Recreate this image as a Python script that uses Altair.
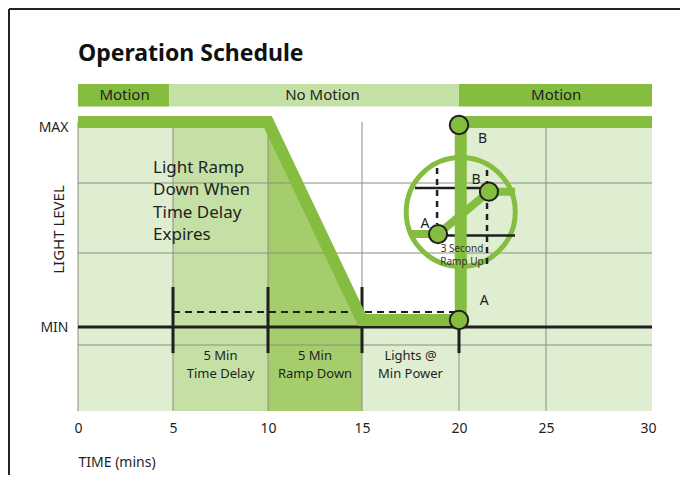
import altair as alt
import pandas as pd

FONT = "Noto Sans"
TXT = "#1f1f1f"
GREEN = "#84bd3f"
LIGHT = "#dfedd0"
MID = "#c5e0a4"
DARK = "#a6cd6c"
GRID = "#8a9080"

# ---- scales (x: minutes, y: light level with MIN = 0, MAX = 1) ----
X_TICKS = [0, 5, 10, 15, 20, 25, 30]
X_DOMAIN = [0, 5, 10, 15, 20, 25, 30, 30.2]
X_RANGE = [0, 95, 190, 284, 381, 468, 570, 574]
Y_DOMAIN = [-0.422, 1.221]
Y_TICKS = [0, 1]

HI, LO = 1.03, 0.035
BOTTOM = -0.422

# light level curve
curve_t = [0, 10, 15, 20.1, 20.1, 30.2]
curve_lvl = [HI, HI, LO, LO, HI, HI]

# shaded phases under the curve
area_t = [0, 5, 5, 10, 10, 15, 15, 20, 20, 30.2]
area_lvl = [HI, HI, HI, HI, HI, LO, LO, LO, HI, HI]
area_seg = ["a", "a", "b", "b", "c", "c", "d", "d", "e", "e"]
seg_names = ["a", "b", "c", "d", "e"]
seg_colors = [LIGHT, MID, DARK, LIGHT, LIGHT]

# grid
grid_t = [0, 5, 10, 15, 20, 25]
grid_lvl = [0.724, 0.372, -0.09]

# motion band
band_start = [0, 4.8, 20]
band_end = [4.8, 20, 30.2]
band_text = ["Motion", "No Motion", "Motion"]
band_text_t = [2.45, 12.9, 25.5]
band_colors = [GREEN, MID, GREEN]
BAND_LO, BAND_HI = 1.108, 1.221

# timeline
tick_t = [5, 10, 15, 20]
TICK_TOP, TICK_BOT = 0.201, -0.131
DASH_LVL = 0.075
phase_lines = ["5 Min", "Time Delay", "5 Min", "Ramp Down", "Lights @", "Min Power"]
phase_t = [7.5, 7.5, 12.5, 12.5, 17.5, 17.5]
phase_lvl = [-0.146, -0.238, -0.146, -0.238, -0.146, -0.238]

# points A / B
pt_t = [20, 20]
pt_lvl = [LO, 1.015]
pt_label = ["A", "B"]
pt_label_t = [21.45, 21.35]
pt_label_lvl = [0.131, 0.945]

# inset (3 second ramp up)
inset_t, inset_lvl = 20.1, 0.578
inset_line_t = [17.47, 18.92, 21.72, 23.22]
inset_line_lvl = [0.467, 0.467, 0.68, 0.68]
inset_pt_t = [18.92, 21.72]
inset_pt_lvl = [0.467, 0.68]
inset_label_t = [18.25, 20.98]
inset_label_lvl = [0.518, 0.739]
inset_black_t = [17.73, 18.92]
inset_black_t2 = [21.72, 23.22]
inset_black_lvl = [0.698, 0.46]
inset_dash_t = [18.87, 21.61]
inset_dash_top = [0.799, 0.789]
inset_dash_bot = [0.518, 0.312]
inset_note = ["3 Second", "Ramp Up"]
inset_note_t = [20.17, 20.17]
inset_note_lvl = [0.392, 0.325]

note_lines = ["Light Ramp", "Down When", "Time Delay", "Expires"]
note_t = [3.95, 3.95, 3.95, 3.95]
note_lvl = [0.799, 0.686, 0.573, 0.46]

xs = alt.Scale(domain=X_DOMAIN, range=X_RANGE, nice=False, zero=False)
ys = alt.Scale(domain=Y_DOMAIN, nice=False, zero=False)


def X(f="t"):
    return alt.X(f, type="quantitative", scale=xs)


def Y(f="lvl"):
    return alt.Y(f, type="quantitative", scale=ys)


area_df = pd.DataFrame({"t": area_t, "lvl": area_lvl, "seg": area_seg, "base": BOTTOM})
areas = alt.Chart(area_df).mark_area(opacity=1).encode(
    x=alt.X("t", type="quantitative", scale=xs,
            axis=alt.Axis(values=X_TICKS, title="TIME (mins)", titleX=0, titleY=51,
                          labelFlush=False,
                          titleAlign="left", titleAnchor="start", titleBaseline="middle")),
    y=alt.Y("lvl", type="quantitative", scale=ys,
            axis=alt.Axis(values=Y_TICKS, labelExpr="datum.value == 1 ? 'MAX' : 'MIN'",
                          title="LIGHT LEVEL", titleX=-20, titleY=145, titleAngle=270,
                          titleFontSize=15,
                          titleAlign="center", titleBaseline="middle")),
    y2=alt.Y2("base"),
    color=alt.Color("seg:N", scale=alt.Scale(domain=seg_names, range=seg_colors), legend=None),
)

vgrid = alt.Chart(pd.DataFrame({"t": grid_t, "lvl": HI, "base": BOTTOM})).mark_rule(
    color=GRID, opacity=0.5, strokeWidth=2
).encode(x=X(), y=Y(), y2="base")
hgrid = alt.Chart(pd.DataFrame({"lvl": grid_lvl, "t": 0, "t2": 30.2})).mark_rule(
    color=GRID, opacity=0.5, strokeWidth=2
).encode(x=X(), x2="t2", y=Y())

band_df = pd.DataFrame({"t": band_start, "t2": band_end, "c": band_colors,
                        "lvl": BAND_LO, "lvl2": BAND_HI})
bands = alt.Chart(band_df).mark_rect().encode(
    x=X(), x2="t2", y=Y(), y2="lvl2", color=alt.Color("c:N", scale=None)
)
band_labels = alt.Chart(pd.DataFrame({"t": band_text_t, "lvl": (BAND_LO + BAND_HI) / 2,
                                      "txt": band_text})).mark_text(
    font=FONT, fontSize=15, color=TXT, baseline="middle"
).encode(x=X(), y=Y(), text="txt")

min_line = alt.Chart(pd.DataFrame({"t": [0], "t2": [30.2], "lvl": [0]})).mark_rule(
    color=TXT, strokeWidth=3
).encode(x=X(), x2="t2", y=Y())
ticks = alt.Chart(pd.DataFrame({"t": tick_t, "lvl": TICK_TOP, "lvl2": TICK_BOT})).mark_rule(
    color=TXT, strokeWidth=3
).encode(x=X(), y=Y(), y2="lvl2")
dash = alt.Chart(pd.DataFrame({"t": [5], "t2": [20], "lvl": [DASH_LVL]})).mark_rule(
    color=TXT, strokeWidth=2, strokeDash=[7, 5]
).encode(x=X(), x2="t2", y=Y())
phases = alt.Chart(pd.DataFrame({"t": phase_t, "lvl": phase_lvl, "txt": phase_lines})).mark_text(
    font=FONT, fontSize=13, color=TXT, baseline="middle"
).encode(x=X(), y=Y(), text="txt")

curve = alt.Chart(pd.DataFrame({"t": curve_t, "lvl": curve_lvl, "i": range(len(curve_t))})).mark_line(
    color=GREEN, strokeWidth=12, strokeJoin="miter", strokeCap="butt"
).encode(x=X(), y=Y(), order="i:Q")

points = alt.Chart(pd.DataFrame({"t": pt_t, "lvl": pt_lvl})).mark_point(
    shape="circle", filled=True, fill=GREEN, stroke=TXT, strokeWidth=2, size=340, opacity=1
).encode(x=X(), y=Y())
pt_labels = alt.Chart(pd.DataFrame({"t": pt_label_t, "lvl": pt_label_lvl, "txt": pt_label})).mark_text(
    font=FONT, fontSize=14, color=TXT
).encode(x=X(), y=Y(), text="txt")

# inset
inset_circle = alt.Chart(pd.DataFrame({"t": [inset_t], "lvl": [inset_lvl]})).mark_point(
    shape="circle", filled=False, stroke=GREEN, strokeWidth=5, size=11900, opacity=1
).encode(x=X(), y=Y())
inset_line = alt.Chart(pd.DataFrame({"t": inset_line_t, "lvl": inset_line_lvl,
                                     "i": range(len(inset_line_t))})).mark_line(
    color=GREEN, strokeWidth=8, strokeJoin="miter"
).encode(x=X(), y=Y(), order="i:Q")
inset_black = alt.Chart(pd.DataFrame({"t": inset_black_t, "t2": inset_black_t2,
                                      "lvl": inset_black_lvl})).mark_rule(
    color=TXT, strokeWidth=2.5
).encode(x=X(), x2="t2", y=Y())
inset_dash = alt.Chart(pd.DataFrame({"t": inset_dash_t, "lvl": inset_dash_top,
                                     "lvl2": inset_dash_bot})).mark_rule(
    color=TXT, strokeWidth=2.5, strokeDash=[6, 5]
).encode(x=X(), y=Y(), y2="lvl2")
inset_pts = alt.Chart(pd.DataFrame({"t": inset_pt_t, "lvl": inset_pt_lvl})).mark_point(
    shape="circle", filled=True, fill=GREEN, stroke=TXT, strokeWidth=2, size=330, opacity=1
).encode(x=X(), y=Y())
inset_labels = alt.Chart(pd.DataFrame({"t": inset_label_t, "lvl": inset_label_lvl,
                                       "txt": pt_label})).mark_text(
    font=FONT, fontSize=14, color=TXT
).encode(x=X(), y=Y(), text="txt")
inset_text = alt.Chart(pd.DataFrame({"t": inset_note_t, "lvl": inset_note_lvl,
                                     "txt": inset_note})).mark_text(
    font=FONT, fontSize=10, color="#333333", baseline="middle"
).encode(x=X(), y=Y(), text="txt")

note = alt.Chart(pd.DataFrame({"t": note_t, "lvl": note_lvl, "txt": note_lines})).mark_text(
    font=FONT, fontSize=17, color=TXT, align="left", baseline="middle"
).encode(x=X(), y=Y(), text="txt")

title = alt.Chart(pd.DataFrame({"txt": ["Operation Schedule"]})).mark_text(
    font=FONT, fontSize=23, fontWeight="bold", color="#111111", align="left", baseline="alphabetic"
).encode(x=alt.value(0), y=alt.value(-23), text="txt")

frame_top = alt.Chart(pd.DataFrame({"k": [0]})).mark_rule(color="#222222", strokeWidth=2).encode(
    x=alt.value(-69), x2=alt.value(602), y=alt.value(-75))
frame_left = alt.Chart(pd.DataFrame({"k": [0]})).mark_rule(color="#222222", strokeWidth=2).encode(
    x=alt.value(-69), y=alt.value(-75), y2=alt.value(391))

chart = alt.layer(
    areas, vgrid, hgrid, bands, band_labels, min_line, ticks, dash, phases,
    inset_circle, inset_line, inset_black, inset_dash, curve, points, pt_labels,
    inset_pts, inset_labels, inset_text, note, title, frame_top, frame_left
).properties(
    width=574, height=327,
    autosize=alt.AutoSizeParams(type="none"),
    padding={"left": 70, "top": 76, "right": 28, "bottom": 64},
).configure_view(stroke=None).configure_axis(
    grid=False, domain=False, ticks=False,
    labelFont=FONT, labelFontSize=14, labelColor=TXT, labelPadding=10,
    titleFont=FONT, titleFontSize=14, titleFontWeight="normal", titleColor=TXT,
)

chart.save("out.html", embed_options={"renderer": "svg", "actions": False})
